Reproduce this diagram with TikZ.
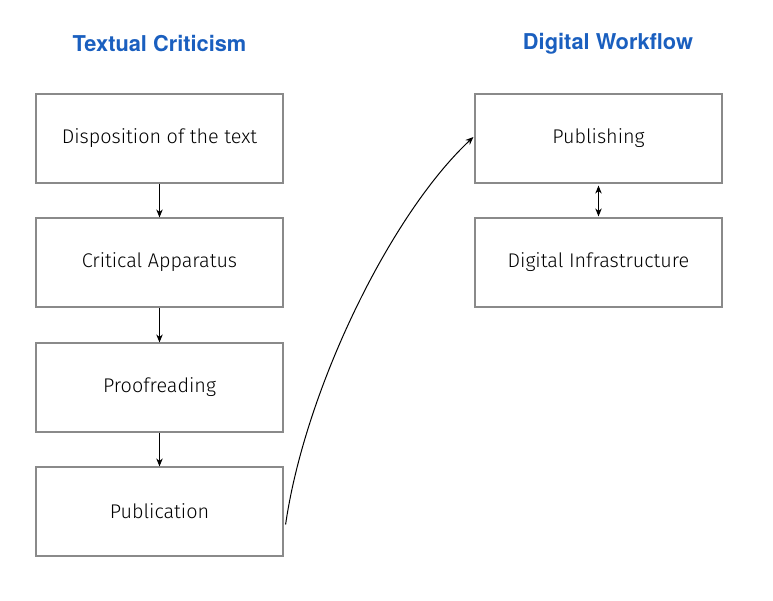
\documentclass[tikz,border=0pt]{standalone}
\usepackage{fontspec}
\setmainfont{Fira Sans}[UprightFont={* Light},BoldFont={* Bold}]
\newfontfamily\titlefont{TeX Gyre Heros}
\usetikzlibrary{arrows.meta}
\definecolor{titleblue}{HTML}{1A5FBF}
\definecolor{boxgray}{HTML}{8A8A8A}
\begin{document}
\begin{tikzpicture}[x=1pt,y=-1pt,
  box/.style={draw=boxgray,line width=1.2pt,minimum width=247pt,minimum height=89pt,inner sep=0pt,font=\fontsize{19.8}{22}\selectfont,text=black},
  ttl/.style={font=\titlefont\bfseries\fontsize{21.8}{24}\selectfont,text=titleblue},
  arr/.style={-{Stealth[length=8pt,width=6.5pt]},line width=1pt,black}]
\useasboundingbox (0,0) rectangle (773,600);
\node[ttl] (t1) at (159.5,44) {Textual Criticism};
\node[ttl] (t2) at (608,44) {Digital Workflow};
\node[box] (b1) at (159.5,138.5) {Disposition of the text};
\node[box] (b2) at (159.5,262.5) {Critical Apparatus};
\node[box] (b3) at (159.5,387.5) {Proofreading};
\node[box] (b4) at (159.5,511.5) {Publication};
\node[box] (r1) at (598.5,138.5) {Publishing};
\node[box] (r2) at (598.5,262.5) {Digital Infrastructure};
\draw[arr] (b1.south) -- (b2.north);
\draw[arr] (b2.south) -- (b3.north);
\draw[arr] (b3.south) -- (b4.north);
\draw[line width=1pt,{Stealth[length=8pt,width=6.5pt]}-{Stealth[length=8pt,width=6.5pt]}] ([yshift=-2pt]r1.south) -- ([yshift=1pt]r2.north);
\coordinate (cs) at ([xshift=2pt,yshift=-13pt]b4.east);
\draw[arr] (cs) .. controls (305,390) and (390,215) .. ([xshift=-1pt,yshift=1.5pt]r1.west);
\end{tikzpicture}
\end{document}
